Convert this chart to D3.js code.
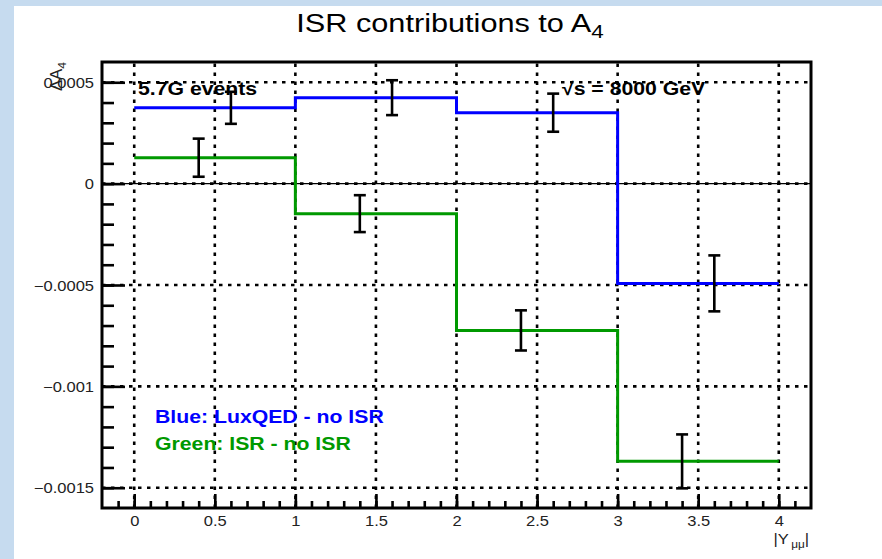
<!DOCTYPE html>
<html>
<head>
<meta charset="utf-8">
<script src="https://cdn.jsdelivr.net/npm/d3@7"></script>
<style>
  html, body { margin: 0; padding: 0; background: #c6dbef; }
  svg { display: block; }
  text { font-family: "Liberation Sans", Arial, Helvetica, sans-serif; }
</style>
</head>
<body>
<svg id="chart" width="882" height="559"></svg>
<script>
// Bin edges in |Y_mumu| and the per-bin A4 shifts
const binEdges = [0, 1, 2, 3, 4];
const blueValues = [0.000374, 0.000424, 0.000350, -0.000492];   // LuxQED - no ISR
const greenValues = [0.000128, -0.000148, -0.000724, -0.001370]; // ISR - no ISR

// Statistical error bars, drawn slightly off bin centre
const blueErrX = [0.6, 1.6, 2.6, 3.6];
const blueErr = [0.000079, 0.000086, 0.000094, 0.000138];
const greenErrX = [0.4, 1.4, 2.4, 3.4];
const greenErr = [0.000094, 0.000091, 0.000099, 0.000133];

// Axis ticks and labels
const xMajorTicks = [0, 0.5, 1, 1.5, 2, 2.5, 3, 3.5, 4];
const xTickLabels = ["0", "0.5", "1", "1.5", "2", "2.5", "3", "3.5", "4"];
const xMinorTicks = d3.range(-1, 42).map(i => i / 10);
const yMajorTicks = [-0.0015, -0.001, -0.0005, 0, 0.0005];
const yTickLabels = ["\u22120.0015", "\u22120.001", "\u22120.0005", "0", "0.0005"];
const yMinorTicks = d3.range(-15, 6).map(i => i / 10000);

const BLUE = "#0000ff";
const GREEN = "#009900";
const SX = 1.18; // horizontal stretch of the text glyphs

const svg = d3.select("#chart");

// page background: pale blue border, white canvas
svg.append("rect").attr("x", 0).attr("y", 0).attr("width", 882).attr("height", 559).attr("fill", "#c6dbef");
svg.append("rect").attr("x", 14).attr("y", 6).attr("width", 868).attr("height", 553).attr("fill", "#ffffff");

const frame = { left: 102, right: 811, top: 62, bottom: 508 };
const x = d3.scaleLinear().domain([-0.2, 4.2]).range([frame.left, frame.right]);
const y = d3.scaleLinear().domain([-0.0016, 0.0006]).range([frame.bottom, frame.top]);

// dotted grid
const grid = svg.append("g").attr("stroke", "#000").attr("stroke-width", 2.6)
  .attr("stroke-dasharray", "3.5,5.5").attr("fill", "none");
grid.selectAll("line.gx").data(xMajorTicks).join("line")
  .attr("x1", d => x(d)).attr("x2", d => x(d))
  .attr("y1", frame.bottom).attr("y2", frame.top);
grid.selectAll("line.gy").data(yMajorTicks).join("line")
  .attr("y1", d => y(d)).attr("y2", d => y(d))
  .attr("x1", frame.left).attr("x2", frame.right);

// solid zero line
svg.append("line")
  .attr("x1", frame.left).attr("x2", frame.right)
  .attr("y1", y(0)).attr("y2", y(0))
  .attr("stroke", "#000").attr("stroke-width", 1.4);

// step histograms
function stepPoints(vals) {
  const pts = vals.map((v, i) => [binEdges[i], v]);
  pts.push([binEdges[binEdges.length - 1], vals[vals.length - 1]]);
  return pts;
}
const stepLine = d3.line().x(d => x(d[0])).y(d => y(d[1])).curve(d3.curveStepAfter);
svg.append("path").attr("d", stepLine(stepPoints(greenValues)))
  .attr("fill", "none").attr("stroke", GREEN).attr("stroke-width", 3);
svg.append("path").attr("d", stepLine(stepPoints(blueValues)))
  .attr("fill", "none").attr("stroke", BLUE).attr("stroke-width", 3);

// error bars
function errorBars(xs, vals, errs) {
  const g = svg.append("g").attr("stroke", "#000").attr("stroke-width", 2.6);
  const data = xs.map((xv, i) => ({ x: xv, v: vals[i], e: errs[i] }));
  g.selectAll("line.v").data(data).join("line")
    .attr("x1", d => x(d.x)).attr("x2", d => x(d.x))
    .attr("y1", d => y(d.v - d.e)).attr("y2", d => y(d.v + d.e));
  g.selectAll("line.lo").data(data).join("line")
    .attr("x1", d => x(d.x) - 6).attr("x2", d => x(d.x) + 6)
    .attr("y1", d => y(d.v - d.e)).attr("y2", d => y(d.v - d.e));
  g.selectAll("line.hi").data(data).join("line")
    .attr("x1", d => x(d.x) - 6).attr("x2", d => x(d.x) + 6)
    .attr("y1", d => y(d.v + d.e)).attr("y2", d => y(d.v + d.e));
}
errorBars(greenErrX, greenValues, greenErr);
errorBars(blueErrX, blueValues, blueErr);

// axes: ticks point into the frame
const xMinorAxis = d3.axisBottom(x).tickValues(xMinorTicks).tickSize(-7).tickFormat("");
const xMajorAxis = d3.axisBottom(x).tickValues(xMajorTicks).tickSize(-14)
  .tickFormat((d, i) => xTickLabels[i]);
const yMinorAxis = d3.axisLeft(y).tickValues(yMinorTicks).tickSize(-12).tickFormat("");
const yMajorAxis = d3.axisLeft(y).tickValues(yMajorTicks).tickSize(-23)
  .tickFormat((d, i) => yTickLabels[i]);

function styleAxis(g) {
  g.select(".domain").remove();
  g.selectAll(".tick line").attr("stroke", "#000").attr("stroke-width", 2.6);
  g.selectAll(".tick text").attr("font-size", 14).attr("fill", "#222")
    .attr("font-family", "'Liberation Sans', Arial, sans-serif");
}
svg.append("g").attr("transform", `translate(0,${frame.bottom})`).call(xMinorAxis).call(styleAxis);
svg.append("g").attr("transform", `translate(0,${frame.bottom})`).call(xMajorAxis).call(styleAxis)
  .selectAll(".tick text").attr("y", 0).attr("dy", 0)
  .attr("transform", `translate(0,18) scale(${SX},1)`);
svg.append("g").attr("transform", `translate(${frame.left},0)`).call(yMinorAxis).call(styleAxis);
svg.append("g").attr("transform", `translate(${frame.left},0)`).call(yMajorAxis).call(styleAxis)
  .selectAll(".tick text").attr("x", 0).attr("dy", 0)
  .attr("transform", `translate(-8,5) scale(${SX},1)`);

// frame
svg.append("rect")
  .attr("x", frame.left).attr("y", frame.top)
  .attr("width", frame.right - frame.left).attr("height", frame.bottom - frame.top)
  .attr("fill", "none").attr("stroke", "#000").attr("stroke-width", 3);

// text helper with horizontal stretch
function label(px, py, opts) {
  const t = svg.append("text")
    .attr("transform", `translate(${px},${py}) scale(${SX},1)`)
    .attr("font-size", opts.size)
    .attr("font-weight", opts.bold ? "bold" : "normal")
    .attr("fill", opts.color || "#000")
    .attr("text-anchor", opts.anchor || "start");
  return t;
}

// title
const title = label(450, 32, { size: 26, anchor: "middle" });
title.append("tspan").text("ISR contributions to A");
title.append("tspan").attr("font-size", 19).attr("dy", 6).text("4");

// y axis title (rotated, reads bottom to top)
const yTitle = svg.append("text")
  .attr("transform", `translate(62,62) rotate(-90) scale(1.2,1.18)`)
  .attr("font-size", 14).attr("text-anchor", "end").attr("fill", "#222");
yTitle.append("tspan").text("\u0394A");
yTitle.append("tspan").attr("font-size", 10).attr("dy", 3).text("4");

// x axis title
const xTitle = label(809, 544, { size: 14, anchor: "end", color: "#222" });
xTitle.append("tspan").text("|Y");
xTitle.append("tspan").attr("font-size", 10).attr("dy", 4).attr("dx", 2).text("\u03bc\u03bc");
xTitle.append("tspan").attr("dy", -4).text("|");

// annotations
label(138, 95, { size: 18, bold: true }).text("5.7G events");
label(562, 95, { size: 18, bold: true }).text("\u221as = 8000 GeV");
label(155, 423, { size: 18, bold: true, color: BLUE }).text("Blue: LuxQED - no ISR");
label(155, 450, { size: 18, bold: true, color: GREEN }).text("Green: ISR - no ISR");
</script>
</body>
</html>
